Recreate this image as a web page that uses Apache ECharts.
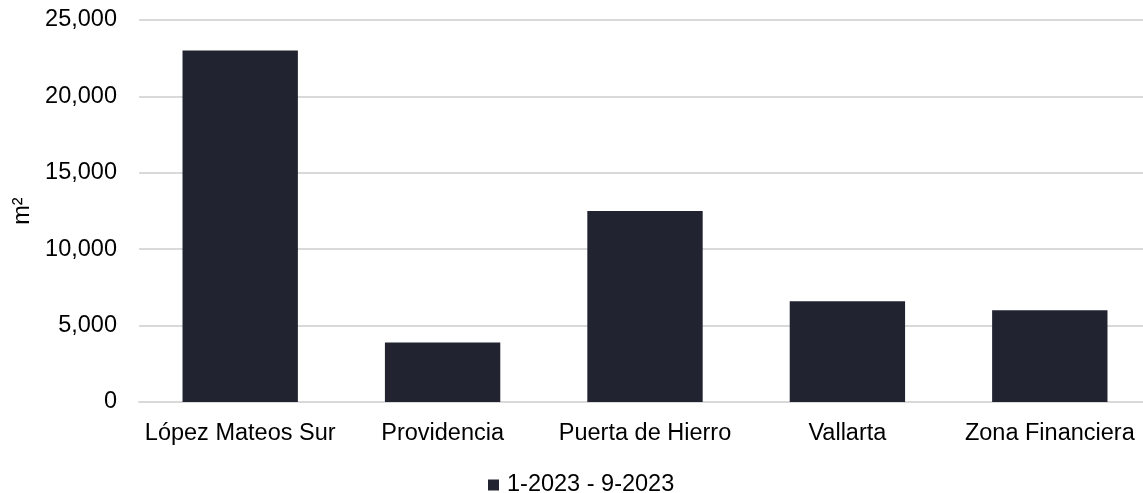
<!DOCTYPE html>
<html>
<head>
<meta charset="utf-8">
<style>
  html, body { margin: 0; padding: 0; background: #fff; }
  #chart { width: 1143px; height: 493px; }
</style>
<script src="https://cdn.jsdelivr.net/npm/echarts@6/dist/echarts.min.js"></script>
</head>
<body>
<div id="chart"></div>
<script>
// datos
const categories = ['López Mateos Sur', 'Providencia', 'Puerta de Hierro', 'Vallarta', 'Zona Financiera'];
const values = [23000, 3900, 12500, 6600, 6000];
const seriesName = '1-2023 - 9-2023';

const font = 'Liberation Sans, Arial, sans-serif';
const fs = 23.5;
const barColor = '#222331';

var myChart = echarts.init(document.getElementById('chart'));

let option = {
    animation: false,
    grid: { left: 139, right: -8, top: 20, bottom: 91, outerBoundsMode: 'none', containLabel: false },
    legend: {
        top: 468,
        left: 483,
        itemWidth: 11,
        itemHeight: 11,
        itemGap: 10,
        icon: 'rect',
        textStyle: { fontFamily: font, fontSize: fs, color: '#000', padding: [0, 0, 0, 3] },
        data: [seriesName]
    },
    xAxis: {
        type: 'category',
        data: categories,
        axisTick: { show: false },
        axisLine: { lineStyle: { color: '#d9d9d9', width: 2 } },
        axisLabel: { fontFamily: font, fontSize: fs, color: '#000', margin: 20, interval: 0 }
    },
    yAxis: {
        type: 'value',
        min: 0,
        max: 25000,
        interval: 5000,
        name: 'm²',
        nameLocation: 'middle',
        nameRotate: 90,
        nameGap: 104,
        nameTextStyle: { fontFamily: font, fontSize: fs, color: '#000' },
        axisLabel: {
            fontFamily: font, fontSize: fs, color: '#000', margin: 22,
            formatter: v => v.toLocaleString('en-US')
        },
        splitLine: { lineStyle: { color: '#d9d9d9', width: 2 } }
    },
    series: [{
        name: seriesName,
        type: 'bar',
        data: values,
        barWidth: '57%',
        itemStyle: { color: barColor }
    }]
};

myChart.setOption(option);
</script>
</body>
</html>
